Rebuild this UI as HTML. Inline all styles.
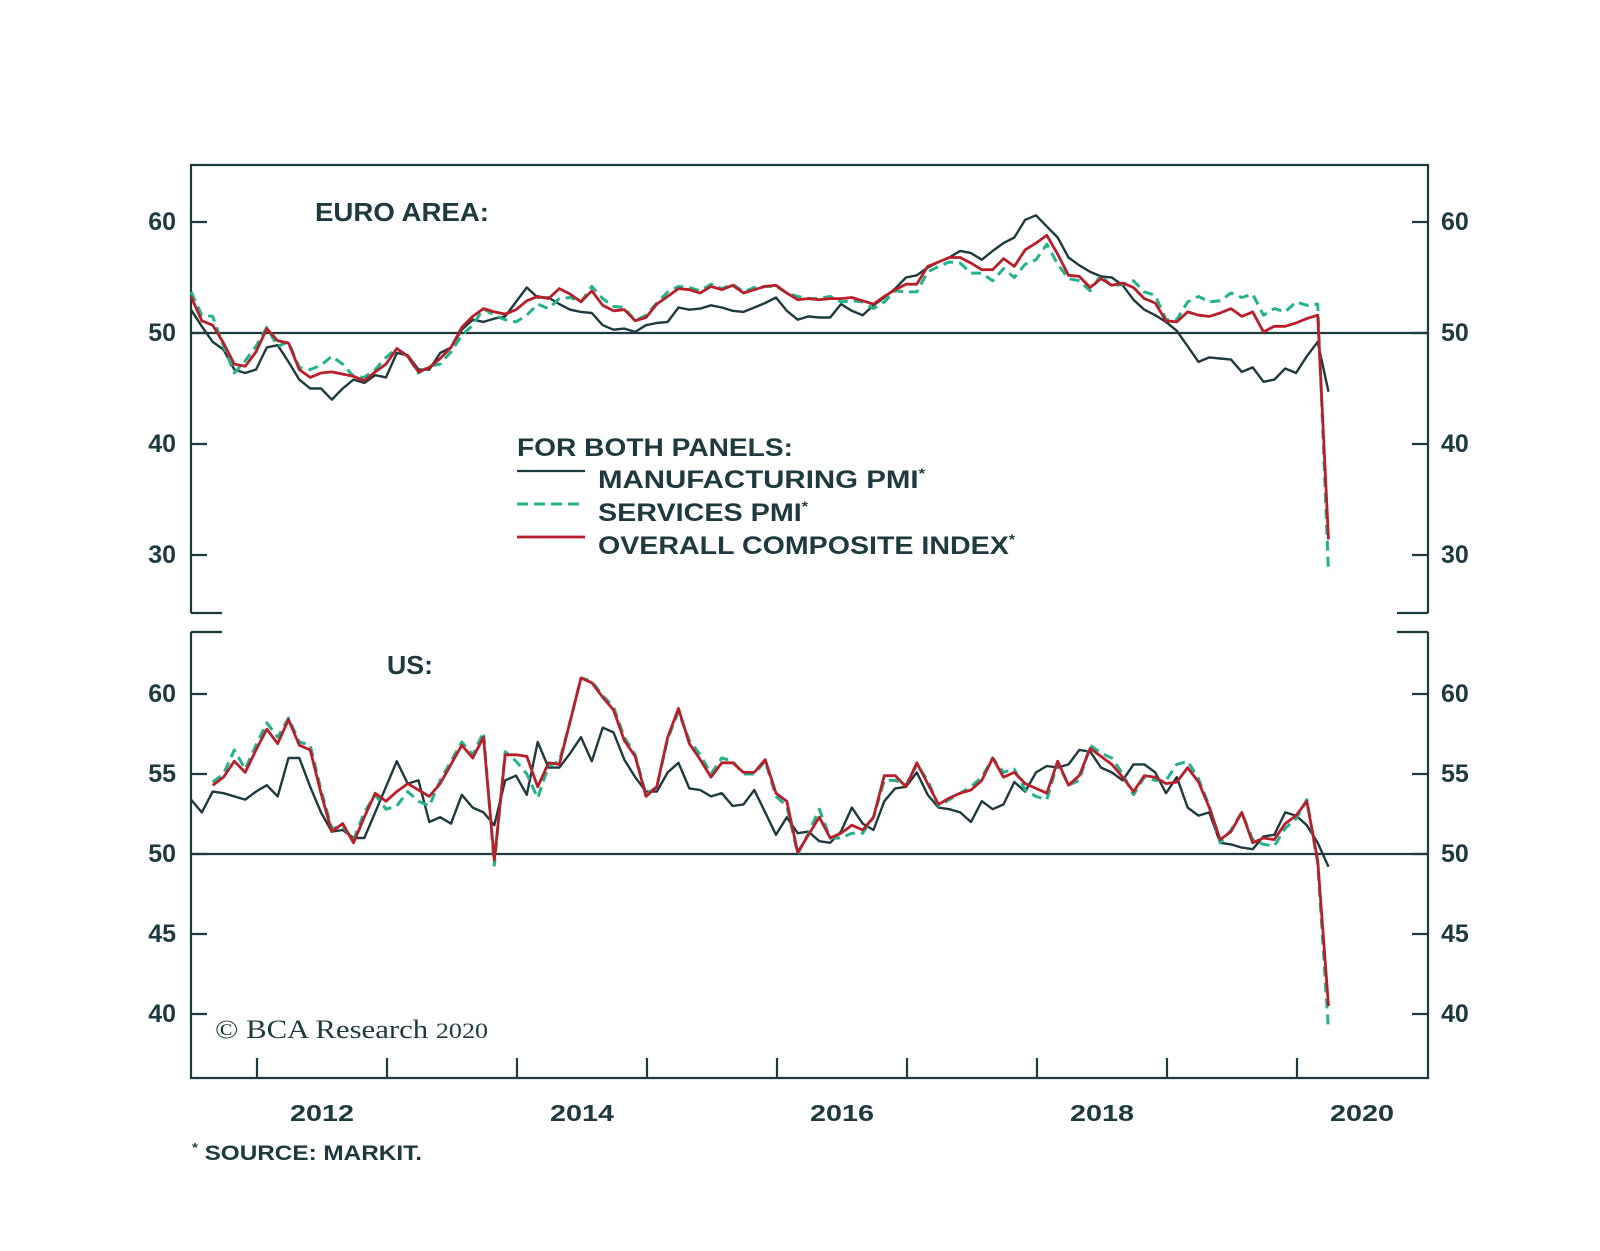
<!DOCTYPE html>
<html><head><meta charset="utf-8"><title>PMI chart</title>
<style>
html,body{margin:0;padding:0;background:#fff;}
svg{display:block;}
text{font-family:"Liberation Sans",sans-serif;fill:#1e3a3e;font-weight:bold;}
</style></head>
<body>
<svg id="chart" width="1600" height="1251" viewBox="0 0 1600 1251" xmlns="http://www.w3.org/2000/svg">
<g id="frame" stroke="#1e3a3e" stroke-width="2.2" fill="none">
  <path d="M191,613 V165 H1428 V613 M191,613 H222 M1428,613 H1397"/>
  <path d="M191,632 V1078 H1428 V632 M191,632 H222 M1428,632 H1397"/>
</g>
<g id="axes"></g>
<g id="series"></g>
<text x="315" y="221" font-size="26" textLength="174" lengthAdjust="spacingAndGlyphs">EURO AREA:</text>
<text x="387" y="674" font-size="26" textLength="46" lengthAdjust="spacingAndGlyphs">US:</text>
<g>
  <text x="517" y="456" font-size="25" textLength="276" lengthAdjust="spacingAndGlyphs">FOR BOTH PANELS:</text>
  <line x1="517" y1="471" x2="585" y2="471" stroke="#1e3a3e" stroke-width="2.2"/>
  <text x="598" y="488" font-size="25" textLength="327" lengthAdjust="spacingAndGlyphs">MANUFACTURING PMI<tspan font-size="14" dy="-10">*</tspan></text>
  <line x1="517" y1="504" x2="585" y2="504" stroke="#22b38a" stroke-width="3" stroke-dasharray="11,6"/>
  <text x="598" y="521" font-size="25" textLength="210" lengthAdjust="spacingAndGlyphs">SERVICES PMI<tspan font-size="14" dy="-10">*</tspan></text>
  <line x1="517" y1="537" x2="585" y2="537" stroke="#b81f2a" stroke-width="2.8"/>
  <text x="598" y="554" font-size="25" textLength="417" lengthAdjust="spacingAndGlyphs">OVERALL COMPOSITE INDEX<tspan font-size="14" dy="-10">*</tspan></text>
</g>
<text x="215" y="1038" font-size="26" textLength="273" lengthAdjust="spacingAndGlyphs" style="font-family:'Liberation Serif',serif;font-weight:normal;">© BCA Research <tspan font-size="22">2020</tspan></text>
<text x="192" y="1160" font-size="21" textLength="230" lengthAdjust="spacingAndGlyphs"><tspan font-size="13" dy="-8">*</tspan><tspan dy="8"> SOURCE: MARKIT.</tspan></text>
</svg>
<script>
// ---- data (monthly, Jun 2011 .. Mar 2020) ----
const euMfg = [52.1,50.6,49.2,48.5,46.7,46.4,46.7,48.7,48.9,47.4,45.8,45.0,45.0,44.0,45.0,45.8,45.5,46.2,46.0,48.2,48.0,46.7,46.7,48.2,48.7,50.3,51.2,51.0,51.3,51.5,52.8,54.1,53.2,53.2,52.6,52.1,51.9,51.8,50.7,50.3,50.4,50.1,50.7,50.9,51.0,52.3,52.1,52.2,52.5,52.3,52.0,51.9,52.3,52.7,53.2,52.0,51.2,51.5,51.4,51.4,52.6,52.0,51.6,52.5,53.2,54.0,55.0,55.2,55.9,56.4,56.8,57.4,57.2,56.6,57.4,58.1,58.6,60.2,60.6,59.6,58.6,56.8,56.1,55.5,55.1,55.0,54.3,53.0,52.1,51.6,51.0,50.2,48.8,47.4,47.8,47.7,47.6,46.5,46.9,45.6,45.8,46.8,46.4,47.9,49.2,44.7];
const euSvc = [53.7,51.6,51.5,48.8,46.4,47.5,48.8,50.5,48.8,49.2,46.9,46.7,47.1,47.9,47.2,46.1,46.0,46.7,47.8,48.6,47.9,46.4,47.0,47.2,48.3,49.8,50.7,52.2,51.6,51.2,51.0,51.6,52.6,52.2,53.1,53.2,52.8,54.2,53.1,52.4,52.3,51.1,51.6,52.7,53.7,54.2,54.1,53.8,54.4,54.0,54.4,53.7,54.1,54.2,54.2,53.6,53.3,53.1,53.1,53.3,52.8,52.9,52.8,52.2,52.8,53.8,53.7,53.7,55.5,56.0,56.4,56.3,55.4,55.4,54.7,55.8,55.0,56.2,56.6,58.0,56.2,54.9,54.7,53.8,55.2,54.2,54.4,54.7,53.7,53.4,51.2,51.2,52.8,53.3,52.8,52.9,53.6,53.2,53.5,51.6,52.2,51.9,52.8,52.5,52.6,28.4];
const euComp = [53.3,51.1,50.7,49.1,47.2,47.0,48.3,50.4,49.3,49.1,46.7,46.0,46.4,46.5,46.3,46.1,45.7,46.5,47.2,48.6,47.9,46.5,46.9,47.7,48.7,50.5,51.5,52.2,51.9,51.7,52.1,52.9,53.3,53.1,54.0,53.5,52.8,53.8,52.5,52.0,52.1,51.1,51.4,52.6,53.3,54.0,53.9,53.6,54.2,53.9,54.3,53.6,53.9,54.2,54.3,53.6,53.0,53.1,53.0,53.1,53.1,53.2,52.9,52.6,53.3,53.9,54.4,54.4,56.0,56.4,56.8,56.8,56.3,55.7,55.7,56.7,56.0,57.5,58.1,58.8,57.1,55.2,55.1,54.1,54.9,54.3,54.5,54.1,53.1,52.7,51.1,51.0,51.9,51.6,51.5,51.8,52.2,51.5,51.9,50.1,50.6,50.6,50.9,51.3,51.6,31.4];
const usMfg = [53.4,52.6,53.9,53.8,53.6,53.4,53.9,54.3,53.6,56.0,56.0,54.2,52.6,51.4,51.5,51.0,51.0,52.6,54.2,55.8,54.4,54.6,52.0,52.3,51.9,53.7,52.9,52.6,51.8,54.6,54.9,53.7,57.0,55.4,55.4,56.3,57.3,55.8,57.9,57.6,55.9,54.8,53.9,53.9,55.1,55.7,54.1,54.0,53.6,53.8,53.0,53.1,54.0,52.6,51.2,52.3,51.3,51.4,50.8,50.7,51.4,52.9,51.9,51.5,53.3,54.1,54.2,55.1,53.7,52.9,52.8,52.6,52.0,53.3,52.8,53.1,54.5,53.9,55.1,55.5,55.4,55.6,56.5,56.4,55.4,55.1,54.6,55.6,55.6,55.1,53.8,54.8,52.9,52.4,52.6,50.7,50.6,50.4,50.3,51.1,51.2,52.6,52.4,51.8,50.7,49.2];
const usSvc = [null,null,54.5,55.0,56.5,55.3,56.8,58.2,57.3,58.5,57.0,56.8,54.0,51.6,51.7,50.9,52.6,53.7,52.8,53.0,53.9,53.3,53.0,54.6,55.8,57.0,56.2,57.6,49.3,56.4,55.8,55.0,53.5,55.5,55.8,58.3,61.0,60.8,59.9,59.2,57.3,56.2,53.7,54.2,57.2,58.9,57.1,56.2,55.0,56.0,55.8,55.0,55.0,55.8,53.6,53.0,50.0,51.3,52.8,51.0,51.0,51.3,51.3,52.3,54.6,54.6,54.3,55.6,54.6,53.0,53.4,53.8,54.2,54.8,56.0,55.1,55.3,54.0,53.6,53.4,55.7,54.3,54.6,56.8,56.3,56.0,55.0,53.7,54.8,54.6,54.6,55.6,55.8,54.7,53.0,50.7,51.5,52.6,50.9,50.6,50.5,51.6,52.2,53.4,49.4,39.0];
const usComp = [null,null,54.3,54.8,55.8,55.1,56.5,57.8,56.9,58.4,56.8,56.5,53.8,51.4,51.9,50.7,52.3,53.8,53.3,53.9,54.4,54.0,53.6,54.4,55.6,56.8,56.0,57.3,49.6,56.2,56.2,56.1,54.2,55.7,55.6,58.3,61.0,60.7,59.8,59.0,57.1,56.1,53.6,54.2,57.3,59.1,56.9,55.9,54.8,55.7,55.7,55.1,55.1,55.9,53.8,53.3,50.1,51.2,52.3,51.0,51.3,51.8,51.5,52.3,54.9,54.9,54.2,55.7,54.4,53.1,53.5,53.8,54.0,54.6,56.0,54.8,55.1,54.4,54.1,53.8,55.8,54.3,54.9,56.6,56.1,55.6,54.8,53.9,54.9,54.8,54.4,54.5,55.4,54.5,52.9,50.9,51.4,52.6,50.7,51.0,50.9,51.9,52.4,53.3,49.6,40.5];
const euTicks = [60,50,40,30];
const usTicks = [60,55,50,45,40];
const yearLabels = ["2012","2014","2016","2018","2020"];
const yearTicks = [2012,2013,2014,2015,2016,2017,2018,2019,2020];

// ---- scales ----
const X0 = 191, PXM = 130/12;
const xIdx = i => X0 + i * PXM;
const xYear = y => 257 + (y - 2012) * 130;
const yEu = v => 333 - (v - 50) * 11.1;
const yUs = v => 854 - (v - 50) * 16;
const NS = "http://www.w3.org/2000/svg";
const axes = document.getElementById('axes');
const layer = document.getElementById('series');
function mk(tag, attrs, parent){ const e=document.createElementNS(NS,tag); for(const k in attrs) e.setAttribute(k,attrs[k]); parent.appendChild(e); return e; }

function yAxis(ticks, scale, panel){
  ticks.forEach(t=>{
    const y = scale(t);
    const tl = mk('path',{d:`M191,${y} H207 M1428,${y} H1412`,stroke:'#1e3a3e','stroke-width':2.2,fill:'none'},axes);
    
    
    const a = mk('text',{x:176,y:y+8,'font-size':25,'text-anchor':'end'},axes);
    a.textContent = t;
    
    
    const b = mk('text',{x:1441,y:y+8,'font-size':25},axes);
    b.textContent = t;
    
    
  });
  const ref = mk('line',{x1:191,x2:1428,y1:scale(50),y2:scale(50),stroke:'#1e3a3e','stroke-width':2.2},axes);
  
  
}
yAxis(euTicks, yEu, 'euro');
yAxis(usTicks, yUs, 'us');

yearTicks.forEach(y=>{
  const t = mk('line',{x1:xYear(y),x2:xYear(y),y1:1078,y2:1058,stroke:'#1e3a3e','stroke-width':2.2},axes);
  
  
});
yearLabels.forEach(l=>{
  const t = mk('text',{x:xYear(+l)+33,y:1121,'font-size':23,textLength:64,lengthAdjust:'spacingAndGlyphs'},axes);
  t.textContent = l;
  
  
});

function line(data, scale, style, name){
  let d='', pen=false;
  data.forEach((v,i)=>{
    if(v===null){pen=false;return;}
    d += (pen?'L':'M') + xIdx(i).toFixed(1) + ',' + scale(v).toFixed(1) + ' ';
    pen=true;
  });
  const p = mk('path',Object.assign({d:d,fill:'none','stroke-linejoin':'round'},style),layer);
  
  
}
const sMfg = {stroke:'#1e3a3e','stroke-width':2.4};
const sSvc = {stroke:'#22b38a','stroke-width':3,'stroke-dasharray':'10,6'};
const sComp = {stroke:'#b81f2a','stroke-width':2.8};
line(euMfg, yEu, sMfg, 'euro-manufacturing-line');
line(euSvc, yEu, sSvc, 'euro-services-line');
line(euComp, yEu, sComp, 'euro-composite-line');
line(usMfg, yUs, sMfg, 'us-manufacturing-line');
line(usSvc, yUs, sSvc, 'us-services-line');
line(usComp, yUs, sComp, 'us-composite-line');
</script>
</body></html>
